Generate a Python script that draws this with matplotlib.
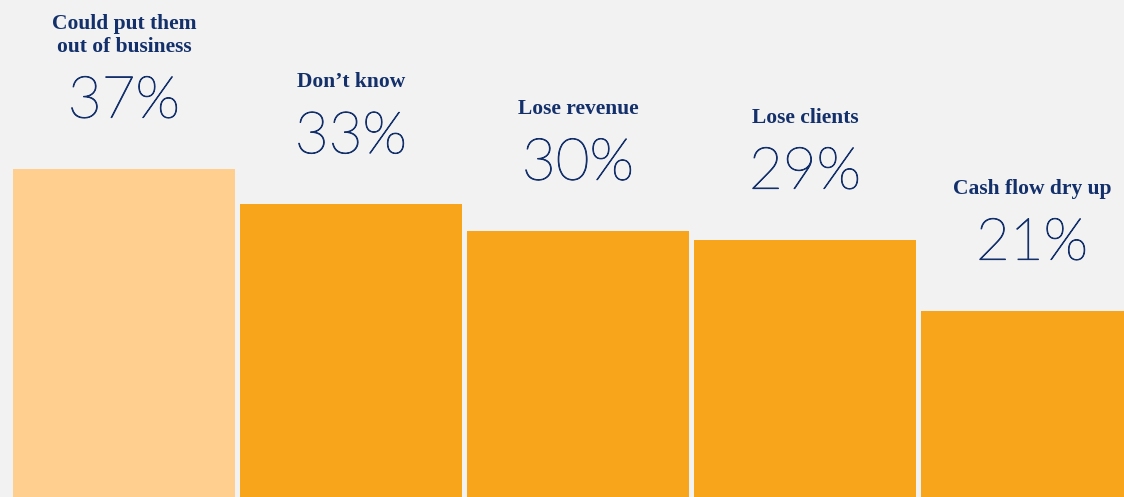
import matplotlib
matplotlib.use("Agg")
import matplotlib.pyplot as plt
import matplotlib.patheffects as pe

categories = ["Could put them\nout of business", "Don\u2019t know", "Lose revenue", "Lose clients", "Cash flow dry up"]
values = [37, 33, 30, 29, 21]
value_labels = ["37%", "33%", "30%", "29%", "21%"]

bar_colors = ["#FECF8E", "#F9A51C", "#F9A51C", "#F9A51C", "#F9A51C"]
navy = "#13306B"
bg = "#F2F2F2"

fig = plt.figure(figsize=(11.24, 4.97), dpi=100, facecolor=bg)
ax = fig.add_axes([0, 0, 1, 1])
ax.set_facecolor(bg)

x = list(range(len(values)))
ax.bar(x, values, width=0.978, color=bar_colors, linewidth=0)
ax.set_xlim(-0.546, 4.405)
ax.set_ylim(0, 56.0)
ax.axis("off")

for xi, v, cat, lab in zip(x, values, categories, value_labels):
    ax.annotate(lab, (xi, v), xytext=(0, 51), textcoords="offset pixels",
                ha="center", va="baseline", fontsize=42, color=navy,
                family=["Lato", "DejaVu Sans"], fontweight="light",
                path_effects=[pe.withStroke(linewidth=0.7, foreground=navy)])
    ax.annotate(cat, (xi, v), xytext=(0, 117), textcoords="offset pixels",
                ha="center", va="baseline", fontsize=15.5, color=navy,
                family=["Liberation Serif", "DejaVu Serif"], fontweight="bold",
                linespacing=1.15)

fig.savefig("out.png", dpi=100, facecolor=bg)
